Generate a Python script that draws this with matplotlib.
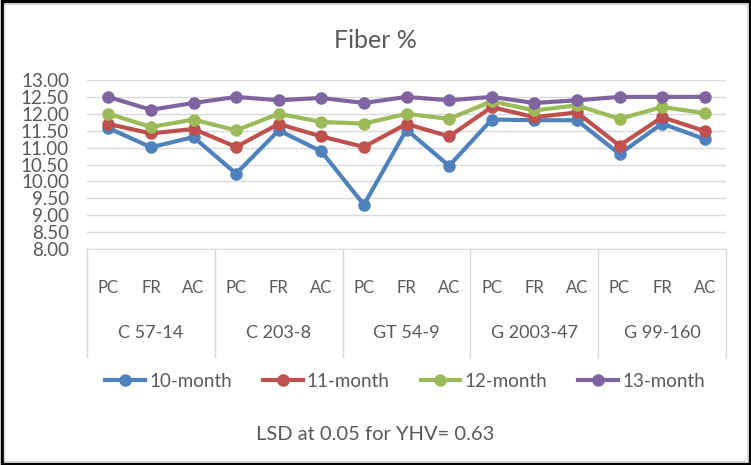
import matplotlib
matplotlib.use("Agg")
import matplotlib.pyplot as plt
from matplotlib.lines import Line2D
from matplotlib.patches import Rectangle
import matplotlib.transforms as mtransforms

plt.rcParams['font.family'] = ['Lato', 'DejaVu Sans']

groups = ["C 57-14", "C 203-8", "GT 54-9", "G 2003-47", "G 99-160"]
treatments = ["PC", "FR", "AC"]
series_names = ["10-month", "11-month", "12-month", "13-month"]
m10 = [11.58, 11.01, 11.31, 10.23, 11.51, 10.89, 9.31, 11.53, 10.46, 11.83, 11.81, 11.81, 10.81, 11.71, 11.25]
m11 = [11.70, 11.42, 11.55, 11.02, 11.70, 11.33, 11.02, 11.70, 11.33, 12.20, 11.90, 12.04, 11.06, 11.90, 11.49]
m12 = [12.00, 11.61, 11.83, 11.51, 12.00, 11.76, 11.71, 12.00, 11.85, 12.37, 12.10, 12.25, 11.85, 12.20, 12.02]
m13 = [12.50, 12.12, 12.32, 12.50, 12.40, 12.47, 12.32, 12.50, 12.40, 12.50, 12.32, 12.40, 12.50, 12.50, 12.50]
colors = ["#4F81BD", "#C0504D", "#9BBB59", "#8064A2"]
yticks = [8.0, 8.5, 9.0, 9.5, 10.0, 10.5, 11.0, 11.5, 12.0, 12.5, 13.0]
title = "Fiber %"
note = "LSD at 0.05 for YHV= 0.63"

W, H = 751, 465
fig = plt.figure(figsize=(W / 100, H / 100), dpi=100)
fig.patch.set_facecolor("white")
fig.patches.append(Rectangle((1.5 / W, 1.5 / H), 1 - 3 / W, 1 - 3 / H, transform=fig.transFigure,
                             fill=False, edgecolor="black", linewidth=2.5))
fig.patches.append(Rectangle((4 / W, 4 / H), 1 - 8 / W, 1 - 8 / H, transform=fig.transFigure,
                             fill=False, edgecolor="#d9d9d9", linewidth=1))

left, right, top, bottom = 87, 726, 80, 249
ax = fig.add_axes([left / W, 1 - bottom / H, (right - left) / W, (bottom - top) / H])

text_color = "#595959"
n = len(groups) * len(treatments)
xs = list(range(n))
for vals, c, name in zip([m10, m11, m12, m13], colors, series_names):
    ax.plot(xs, vals, color=c, lw=3, marker="o", ms=8, label=name, solid_capstyle="round", zorder=3)

ax.set_xlim(-0.5, n - 0.5)
ax.set_ylim(8, 13)
ax.set_yticks(yticks)
ax.set_yticklabels([f"{v:.2f}" for v in yticks], fontsize=13.5, color=text_color)
ax.yaxis.grid(True, color="#d9d9d9", lw=1)
ax.set_axisbelow(True)
for s in ["top", "right", "left"]:
    ax.spines[s].set_visible(False)
ax.spines["bottom"].set_color("#d9d9d9")
ax.tick_params(axis="y", length=0, pad=13)
ax.set_xticks(xs)
ax.set_xticklabels([treatments[i % 3] for i in xs], fontsize=12, color=text_color)
ax.tick_params(axis="x", length=0, pad=22)

trans = mtransforms.blended_transform_factory(ax.transData, ax.transAxes)
ph = bottom - top
sep_bottom = -(357 - bottom) / ph
for g in range(len(groups) + 1):
    xb = g * 3 - 0.5
    ax.add_line(Line2D([xb, xb], [0, sep_bottom], transform=trans, color="#d9d9d9", lw=1, clip_on=False))
for g, name in enumerate(groups):
    ax.text(g * 3 + 1, -(333 - bottom) / ph, name, transform=trans, ha="center", va="center",
            fontsize=13, color=text_color)

fig.text(0.5, 1 - 40 / H, title, ha="center", va="center", fontsize=18, color=text_color)
fig.text(0.5, 1 - 435 / H, note, ha="center", va="center", fontsize=14.5, color=text_color)

handles = [Line2D([], [], color=c, lw=3, marker="o", ms=8) for c in colors]
leg = fig.legend(handles, series_names, loc="center", bbox_to_anchor=(405 / W, 1 - 381 / H), ncol=4,
                 frameon=False, fontsize=13.5, handlelength=2.13, columnspacing=1.65, handletextpad=0.21,
                 labelcolor=text_color)

fig.savefig("out.png", dpi=100, facecolor="white")
